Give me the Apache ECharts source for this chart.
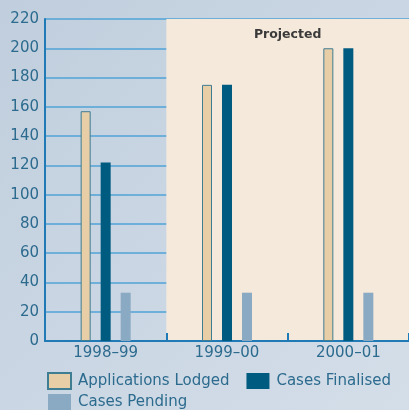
<!DOCTYPE html>
<html>
<head>
<meta charset="utf-8">
<script src="https://cdn.jsdelivr.net/npm/echarts@6/dist/echarts.min.js"></script>
<style>
  html, body { margin: 0; padding: 0; }
  #chart { width: 409px; height: 410px; }
</style>
</head>
<body>
<div id="chart"></div>
<script>
// Financial years shown on the category axis
const years = ['1998–99', '1999–00', '2000–01'];

// Case counts per year
const applicationsLodged = [157, 175, 200];
const casesFinalised = [122, 175, 200];
const casesPending = [33, 33, 33];

// Value axis ticks
const yTicks = [0, 20, 40, 60, 80, 100, 120, 140, 160, 180, 200, 220];

const seriesNames = ['Applications Lodged', 'Cases Finalised', 'Cases Pending'];
const projectedLabel = 'Projected';

const FONT = 'DejaVu Sans';
const TEXT_BLUE = '#2c6b8e';

const chart = echarts.init(document.getElementById('chart'), null, { renderer: 'canvas' });

const legendText = { fontFamily: FONT, fontSize: 15, color: TEXT_BLUE, padding: [0, 0, 0, 2] };

const option = {
  animation: false,
  backgroundColor: {
    type: 'linear', x: 0, y: 0, x2: 1, y2: 1,
    colorStops: [
      { offset: 0, color: '#c0cedd' },
      { offset: 1, color: '#d4dee9' }
    ]
  },
  grid: { left: 45, top: 19, width: 369, height: 322, containLabel: false },
  legend: [
    {
      data: [seriesNames[0], seriesNames[1]],
      left: 47, top: 372, padding: 0,
      itemWidth: 23, itemHeight: 16, itemGap: 17,
      icon: 'rect',
      textStyle: legendText
    },
    {
      data: [seriesNames[2]],
      left: 48, top: 394, padding: 0,
      itemWidth: 23, itemHeight: 16,
      icon: 'rect',
      textStyle: legendText
    }
  ],
  xAxis: {
    type: 'category',
    data: years,
    boundaryGap: true,
    axisLine: { show: true, lineStyle: { color: '#1f7ab5', width: 2 } },
    axisTick: { show: true, inside: true, length: 8, lineStyle: { color: '#1f7ab5', width: 2 } },
    axisLabel: { fontFamily: FONT, fontSize: 15, color: TEXT_BLUE, margin: 5 },
    splitLine: { show: false },
    splitArea: {
      show: true,
      areaStyle: { color: ['rgba(0,0,0,0)', '#f5e9dc', '#f5e9dc'] }
    }
  },
  yAxis: {
    type: 'value',
    min: yTicks[0],
    max: yTicks[yTicks.length - 1],
    interval: yTicks[1] - yTicks[0],
    axisLine: { show: true, lineStyle: { color: '#1f7ab5', width: 2 } },
    axisTick: { show: false },
    axisLabel: { fontFamily: FONT, fontSize: 15, color: TEXT_BLUE, margin: 6 },
    splitLine: { show: true, lineStyle: { color: '#4fa3d6', width: 1.6 } }
  },
  series: [
    {
      name: seriesNames[0],
      type: 'bar',
      data: applicationsLodged,
      barWidth: 10,
      barGap: '100%',
      itemStyle: { color: '#e8cea7', borderColor: '#3f7d92', borderWidth: 1 }
    },
    {
      name: seriesNames[1],
      type: 'bar',
      data: casesFinalised,
      barWidth: 10,
      barGap: '100%',
      itemStyle: { color: '#005b80' }
    },
    {
      name: seriesNames[2],
      type: 'bar',
      data: casesPending,
      barWidth: 10,
      barGap: '100%',
      itemStyle: { color: '#8aa9c3' }
    }
  ]
};

chart.setOption(option);

// "Projected" heading centred over the forecast years
const x1 = chart.convertToPixel({ xAxisIndex: 0 }, years[1]);
const x2 = chart.convertToPixel({ xAxisIndex: 0 }, years[2]);
const yText = chart.convertToPixel({ yAxisIndex: 0 }, 209);
chart.setOption({
  graphic: [{
    type: 'text',
    x: (x1 + x2) / 2,
    y: yText,
    style: {
      text: projectedLabel,
      fontFamily: FONT,
      fontWeight: 'bold',
      fontSize: 12.5,
      fill: '#3a3a3a',
      align: 'center',
      verticalAlign: 'middle'
    }
  }]
});
</script>
</body>
</html>
